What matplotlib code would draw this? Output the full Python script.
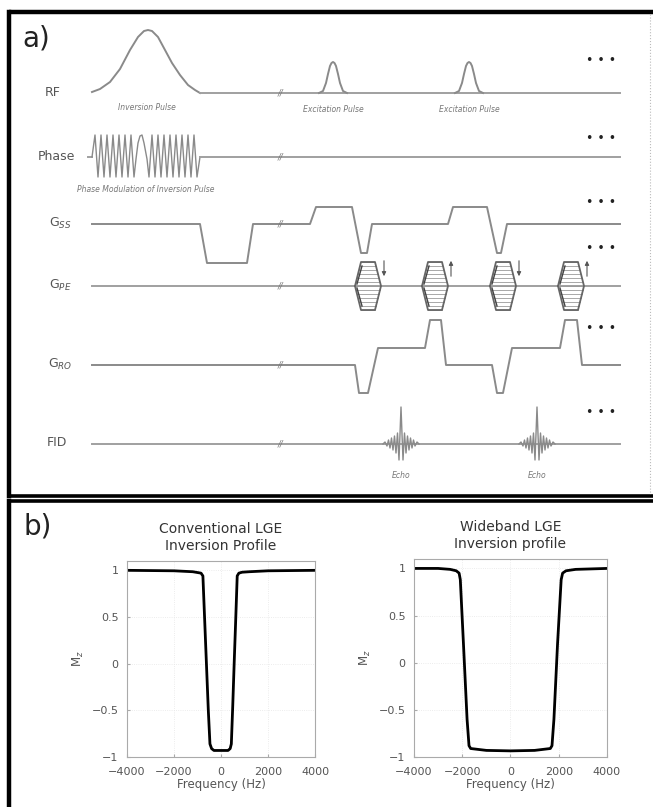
import matplotlib
matplotlib.use("Agg")
import matplotlib.pyplot as plt
import numpy as np

# ---------------- data ----------------
row_names = ["RF", "Phase", r"G$_{SS}$", r"G$_{PE}$", r"G$_{RO}$", "FID"]

# RF inversion pulse (time, amplitude)
inv_t = [0, 8, 18, 28, 38, 46, 52, 56, 60, 66, 73, 80, 88, 96, 103, 108]
inv_a = [1, 4, 11, 24, 43, 56, 62, 63, 62, 56, 43, 30, 18, 8, 3, 0]
# excitation pulse shape (relative time, amplitude) and centres
exc_dt = [-14, -10, -7, -5, -3, -1.5, 0, 1.5, 3, 5, 7, 10, 14]
exc_a = [0, 2, 10, 19, 27, 30, 31, 30, 27, 19, 10, 2, 0]
exc_centres = [241, 377]

# phase modulation of inversion pulse
ph_t = [0, 3, 6, 9, 12, 15, 18, 21, 24, 27, 30, 33, 36, 39, 42,
        44, 46, 48, 50, 52, 55, 57,
        60, 63, 66, 69, 72, 75, 78, 81, 84, 87, 90, 93, 96, 99, 102, 105, 108]
ph_a = [0, 22, -20, 22, -20, 22, -20, 22, -20, 22, -20, 22, -20, 22, -20,
        -2, 14, 21, 22, 14, -2, -20,
        22, -20, 22, -20, 22, -20, 22, -20, 22, -20, 22, -20, 22, -20, 22, -20, 0]
ph_end = [108, 528]

# slice-select gradient
ss_t = [0, 108, 115, 155, 161, 218, 224, 260, 269, 275, 280, 356, 361, 395, 405, 409, 415, 418, 528]
ss_a = [0, 0, -39, -39, 0, 0, 17, 17, -29, -29, 0, 0, 17, 17, -29, -29, 0, 0, 0]

# phase-encode tables (centres) and arrow directions
pe_centres = [276, 343, 411, 479]
pe_levels = [24, 20, 16, 12, 8, 4, 0, -4, -8, -12, -16, -20, -24]
pe_arrows = ["down", "up", "down", "up"]

# readout gradient
ro_t = [0, 263, 267, 276, 286, 333, 338, 349, 354, 400, 405, 411, 420, 468, 473, 485, 490, 528]
ro_a = [0, 0, -28, -28, 17, 17, 45, 45, 0, 0, -28, -28, 17, 17, 45, 45, 0, 0]

# echo shape
echo_dt = [-18, -16, -14, -12.5, -11, -9.5, -8, -6.5, -5, -3.5, -2, -1, 0, 1, 2, 3.5, 5, 6.5, 8,
           9.5, 11, 12.5, 14, 16, 18]
echo_a = [0, 2, -2, 4, -4, 6, -6, 8, -9, 11, -16, 10, 37, 10, -16, 11, -9, 8, -6, 6, -4, 4, -2, 2, 0]
echo_centres = [309, 445]

# inversion profiles
conv_f = [-4000, -2000, -1200, -850, -770, -700, -620, -540, -470, -400, -300, 0,
          300, 390, 440, 500, 560, 630, 690, 760, 900, 1200, 2000, 4000]
conv_mz = [1.0, 0.995, 0.985, 0.97, 0.94, 0.5, 0.0, -0.5, -0.86, -0.91, -0.93, -0.93,
           -0.93, -0.91, -0.86, -0.45, 0.0, 0.5, 0.94, 0.97, 0.98, 0.985, 0.995, 1.0]
wide_f = [-4000, -3000, -2500, -2250, -2130, -2080, -1950, -1800, -1720, -1650, -1000, 0,
          1000, 1650, 1720, 1800, 1950, 2100, 2160, 2300, 2700, 4000]
wide_mz = [1.0, 1.0, 0.99, 0.975, 0.95, 0.88, 0.2, -0.6, -0.88, -0.91, -0.93, -0.935,
           -0.93, -0.91, -0.88, -0.6, 0.2, 0.88, 0.95, 0.975, 0.99, 1.0]
xticks = [-4000, -2000, 0, 2000, 4000]
yticks = [-1, -0.5, 0, 0.5, 1]

# ---------------- layout ----------------
W, H = 653, 807
fig = plt.figure(figsize=(W / 100, H / 100), dpi=100)
ax = fig.add_axes([0, 0, 1, 1])
ax.set_xlim(0, W)
ax.set_ylim(H, 0)
ax.axis("off")

X0 = 92
row_y = [93, 157, 224, 286, 365, 444]
dots_y = [61, 138, 203, 248, 328, 413]
label_x = [53, 56, 60, 60, 60, 57]
wave_c = "#8a8a8a"
base_c = "#a0a0a0"
lw = 1.4
FONT = "DejaVu Sans"

def px(t):
    return X0 + np.asarray(t, dtype=float)

# frames
ax.plot([9, 653], [12, 12], color="black", lw=3.2, solid_capstyle="butt")
ax.plot([9, 9], [12, 496], color="black", lw=3.2)
ax.plot([9, 653], [495.5, 495.5], color="black", lw=2.6)
ax.plot([650, 650], [14, 494], color="#bbbbbb", lw=0.8, ls=":")
ax.plot([9, 653], [501, 501], color="black", lw=2.6)
ax.plot([9, 9], [501, 807], color="black", lw=3.2)

ax.text(22, 38, "a)", fontsize=20, color="#222222", va="center", ha="left", family=FONT)
ax.text(24, 527, "b)", fontsize=20, color="#222222", va="center", ha="left", family=FONT)

for name, y, lx, dy in zip(row_names, row_y, label_x, dots_y):
    ax.text(lx, y - 1, name, fontsize=9, color="#555555", ha="center", va="center", family=FONT)
    ax.text(280, y, "//", fontsize=6, color="#777777", ha="center", va="center",
            style="italic", family=FONT)
    ax.text(601, dy, "\u2022 \u2022 \u2022", fontsize=9, color="#222222",
            ha="center", va="center", family=FONT)

# RF
y = row_y[0]
ax.plot(px(inv_t), y - np.asarray(inv_a), color=wave_c, lw=lw)
ax.plot(px([108, 528]), [y, y], color=base_c, lw=lw)
for c in exc_centres:
    ax.plot(px(np.asarray(exc_dt) + c), y - np.asarray(exc_a), color=wave_c, lw=lw)
ax.text(px(55), 108, "Inversion Pulse", fontsize=5.5, style="italic", color="#777777",
        ha="center", va="center", family=FONT)
for c in exc_centres:
    ax.text(px(c), 110, "Excitation Pulse", fontsize=5.5, style="italic", color="#777777",
            ha="center", va="center", family=FONT)

# Phase
y = row_y[1]
ax.plot(px([-4, 0]), [y, y], color=base_c, lw=lw)
ax.plot(px(ph_t), y - np.asarray(ph_a), color=wave_c, lw=1.0)
ax.plot(px(ph_end), [y, y], color=base_c, lw=lw)
ax.text(146, 190, "Phase Modulation of Inversion Pulse", fontsize=5.5, style="italic",
        color="#777777", ha="center", va="center", family=FONT)

# G_SS
y = row_y[2]
ax.plot(px(ss_t), y - np.asarray(ss_a), color=wave_c, lw=lw)

# G_PE
y = row_y[3]
ax.plot(px([0, 528]), [y, y], color=base_c, lw=lw)
for c, d in zip(pe_centres, pe_arrows):
    top = max(pe_levels)
    for lv in pe_levels:
        half = 7 + 6 * (1 - abs(lv) / top)
        ax.plot(px([c - half, c + half]), [y - lv, y - lv], color="#9a9a9a", lw=0.6)
    hx = [c - 13, c - 7, c + 7, c + 13, c + 7, c - 7, c - 13]
    hy = [0, top, top, 0, -top, -top, 0]
    ax.plot(px(hx), y - np.asarray(hy), color="#666666", lw=1.3)
    ax.plot(px([c - 11, c - 6]), [y - 2, y - 20], color="#444444", lw=1.0)
    ax.plot(px([c - 11, c - 6]), [y + 2, y + 20], color="#444444", lw=1.0)
    axx = px(c + 16)
    if d == "down":
        ax.annotate("", xy=(axx, y - 7), xytext=(axx, y - 28),
                    arrowprops=dict(arrowstyle="-|>", color="#555555", lw=0.8,
                                    mutation_scale=6))
    else:
        ax.annotate("", xy=(axx, y - 28), xytext=(axx, y - 7),
                    arrowprops=dict(arrowstyle="-|>", color="#555555", lw=0.8,
                                    mutation_scale=6))

# G_RO
y = row_y[4]
ax.plot(px(ro_t), y - np.asarray(ro_a), color=wave_c, lw=lw)

# FID
y = row_y[5]
ax.plot(px([0, 528]), [y, y], color=base_c, lw=lw)
for c in echo_centres:
    ax.plot(px(np.asarray(echo_dt) + c), y - np.asarray(echo_a), color=wave_c, lw=1.0)
    ax.text(px(c), 476, "Echo", fontsize=5.5, style="italic", color="#777777",
            ha="center", va="center", family=FONT)

# ---------------- panel b ----------------
def profile_axes(rect, f, mz, title):
    a = fig.add_axes(rect)
    a.plot(f, mz, color="black", lw=2.0)
    a.set_xlim(-4000, 4000)
    a.set_ylim(-1, 1.1)
    a.set_xticks(xticks)
    a.set_yticks(yticks)
    a.set_yticklabels(["\u22121", "\u22120.5", "0", "0.5", "1"])
    a.set_xticklabels(["\u22124000", "\u22122000", "0", "2000", "4000"])
    a.grid(True, color="#e6e6e6", lw=0.6, ls=":")
    for s in a.spines.values():
        s.set_color("#aaaaaa")
        s.set_linewidth(0.8)
    a.tick_params(direction="in", length=2, color="#aaaaaa", labelcolor="#555555",
                  labelsize=8)
    a.tick_params(axis="x", pad=7)
    a.tick_params(axis="y", pad=6)
    a.set_xlabel("Frequency (Hz)", fontsize=8.5, color="#555555", labelpad=1, family=FONT)
    a.set_ylabel(r"M$_z$", fontsize=8.5, color="#555555", labelpad=4)
    a.set_title(title, fontsize=10, color="#333333", pad=8, family=FONT, linespacing=1.25)
    return a

profile_axes([127 / W, 1 - 757 / H, 188 / W, 196 / H], conv_f, conv_mz,
             "Conventional LGE\nInversion Profile")
profile_axes([414 / W, 1 - 757 / H, 193 / W, 198 / H], wide_f, wide_mz,
             "Wideband LGE\nInversion profile")

fig.savefig("out.png", dpi=100)
